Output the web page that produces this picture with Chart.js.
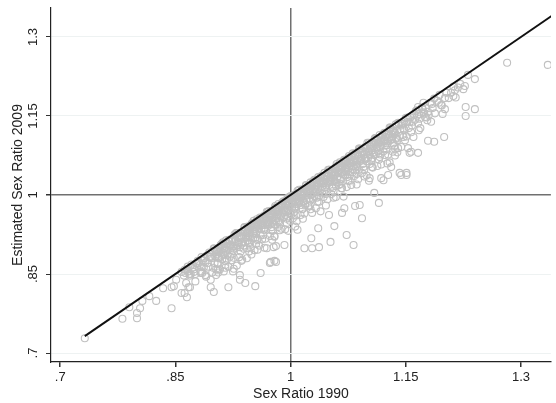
<!DOCTYPE html>
<html>
<head>
<meta charset="utf-8">
<script src="https://cdn.jsdelivr.net/npm/chart.js@4.4.1/dist/chart.umd.min.js"></script>
<style>
  body { margin: 0; background: #fff; }
</style>
</head>
<body>
<canvas id="myChart" width="556" height="403"></canvas>
<script>
var tickValues = [0.7, 0.85, 1, 1.15, 1.3];
var tickLabels = [".7", ".85", "1", "1.15", "1.3"];

// 45 degree line
var lineX = [0.732, 1.345];
var lineY = [0.732, 1.345];

// sex ratio 1990 (x) vs estimated sex ratio 2009 (y)
var sr1990 = [
  // low tail
  0.732,0.781,0.800,0.800,0.804,0.790,0.807,0.825,0.816,0.845,0.834,0.845,0.851,0.858,0.865,0.863,0.869,0.862,0.848,0.858,0.870,0.867,
  // below the band
  0.896,0.896,0.900,0.919,0.934,0.941,0.954,0.961,0.973,0.979,0.934,0.903,0.883,0.884,0.978,0.981,0.992,0.957,0.943,0.979,0.974,0.981,0.890,0.905,0.915,0.925,0.930,
  1.018,1.028,1.037,1.052,1.082,1.073,1.057,1.093,1.027,1.036,1.050,1.067,1.084,1.090,1.115,1.109,1.121,1.142,1.151,1.131,1.102,1.157,1.144,1.127,1.118,1.103,1.070,
  // upper tail
  1.282,1.335,1.240,1.231,1.227,1.214,1.212,1.201,1.201,1.196,1.240,1.228,1.228,1.200,1.187,1.179,1.183,1.198,1.180,1.173,1.166,1.153,1.155,1.166,1.144,1.151,1.167,1.160,1.147,1.140,
  // main band
  0.862,0.867,0.869,0.864,
  0.871,0.874,0.878,0.876,
  0.881,0.884,0.887,0.889,
  0.891,0.893,0.896,0.898,
  0.901,0.902,0.904,0.905,0.906,0.907,0.908,0.909,
  0.911,0.912,0.913,0.914,0.915,0.916,0.918,0.919,
  0.920,0.921,0.923,0.924,0.925,0.926,0.927,0.929,
  0.930,0.931,0.932,0.934,0.935,0.936,0.937,0.939,
  0.940,0.941,0.941,0.942,0.943,0.944,0.944,0.945,0.946,0.947,0.947,0.948,0.949,0.949,
  0.950,0.951,0.951,0.952,0.953,0.954,0.954,0.955,0.956,0.957,0.957,0.958,0.959,0.959,
  0.960,0.961,0.961,0.962,0.963,0.964,0.964,0.965,0.966,0.967,0.967,0.968,0.969,0.969,
  0.970,0.971,0.971,0.972,0.973,0.974,0.974,0.975,0.976,0.977,0.977,0.978,0.979,0.979,
  0.980,0.981,0.981,0.982,0.983,0.984,0.984,0.985,0.986,0.987,0.987,0.988,0.989,0.989,
  0.990,0.991,0.991,0.992,0.993,0.994,0.994,0.995,0.996,0.997,0.997,0.998,0.999,0.999,
  1.000,1.001,1.001,1.002,1.003,1.004,1.004,1.005,1.006,1.007,1.007,1.008,1.009,1.009,
  1.010,1.011,1.011,1.012,1.013,1.014,1.014,1.015,1.016,1.017,1.017,1.018,1.019,1.019,
  1.020,1.021,1.021,1.022,1.023,1.024,1.024,1.025,1.026,1.027,1.027,1.028,1.029,1.029,
  1.030,1.031,1.031,1.032,1.033,1.034,1.034,1.035,1.036,1.037,1.037,1.038,1.039,1.039,
  1.040,1.041,1.041,1.042,1.043,1.044,1.044,1.045,1.046,1.047,1.047,1.048,1.049,1.049,
  1.050,1.051,1.051,1.052,1.053,1.054,1.054,1.055,1.056,1.057,1.057,1.058,1.059,1.059,
  1.060,1.061,1.061,1.062,1.063,1.064,1.064,1.065,1.066,1.067,1.067,1.068,1.069,1.069,
  1.070,1.071,1.071,1.072,1.073,1.074,1.074,1.075,1.076,1.077,1.077,1.078,1.079,1.079,
  1.080,1.081,1.081,1.082,1.083,1.084,1.084,1.085,1.086,1.087,1.087,1.088,1.089,1.089,
  1.090,1.091,1.092,1.093,1.094,1.095,1.096,1.097,1.098,1.099,
  1.100,1.101,1.102,1.103,1.104,1.105,1.106,1.107,1.108,1.109,
  1.110,1.111,1.112,1.113,1.114,1.115,1.116,1.117,1.118,1.119,
  1.120,1.121,1.122,1.123,1.124,1.125,1.126,1.127,1.128,1.129,
  1.130,1.131,1.132,1.133,1.134,1.135,1.136,1.137,1.138,1.139,
  1.141,1.143,1.145,1.146,1.148,1.149,
  1.150,1.152,1.154,1.156,1.157,1.159,
  1.161,1.162,1.164,1.166,1.167,1.169,
  1.171,1.173,1.175,1.176,1.178,1.179,
  1.182,1.185,1.188,
  1.191,1.194,1.197,
  1.203,1.206,1.209,
  1.212,1.215,1.218,
  1.221,1.225,
  // second layer of the band
  0.865,0.868,0.872,0.876,0.879,0.882,0.885,0.888,0.892,0.895,
  0.861,0.866,0.874,0.877,0.883,0.886,0.889,0.894,0.897,0.899,
  0.900,0.908,0.903,0.906,0.901,0.909,0.904,0.902,0.907,0.905,0.903,0.906,
  0.910,0.918,0.913,0.916,0.911,0.919,0.914,0.912,0.917,0.915,0.913,0.916,
  0.920,0.928,0.923,0.926,0.921,0.929,0.924,0.922,0.927,0.925,0.923,0.926,
  0.930,0.938,0.933,0.936,0.931,0.939,0.934,0.932,0.937,0.935,0.933,0.936,
  0.940,0.948,0.943,0.946,0.941,0.949,0.944,0.942,0.947,0.945,0.943,0.946,
  0.950,0.958,0.953,0.956,0.951,0.959,0.954,0.952,0.957,0.955,0.953,0.956,
  0.960,0.968,0.963,0.966,0.961,0.969,0.964,0.962,0.967,0.965,0.963,0.966,
  0.970,0.978,0.973,0.976,0.971,0.979,0.974,0.972,0.977,0.975,0.973,0.976,
  0.980,0.988,0.983,0.986,0.981,0.989,0.984,0.982,0.987,0.985,0.983,0.986,
  0.990,0.998,0.993,0.996,0.991,0.999,0.994,0.992,0.997,0.995,0.993,0.996,
  1.000,1.008,1.003,1.006,1.001,1.009,1.004,1.002,1.007,1.005,1.003,1.006,
  1.010,1.018,1.013,1.016,1.011,1.019,1.014,1.012,1.017,1.015,1.013,1.016,
  1.020,1.028,1.023,1.026,1.021,1.029,1.024,1.022,1.027,1.025,1.023,1.026,
  1.030,1.038,1.033,1.036,1.031,1.039,1.034,1.032,1.037,1.035,1.033,1.036,
  1.040,1.048,1.043,1.046,1.041,1.049,1.044,1.042,1.047,1.045,1.043,1.046,
  1.050,1.058,1.053,1.056,1.051,1.059,1.054,1.052,1.057,1.055,1.053,1.056,
  1.060,1.068,1.063,1.066,1.061,1.069,1.064,1.062,1.067,1.065,1.063,1.066,
  1.070,1.078,1.073,1.076,1.071,1.079,1.074,1.072,1.077,1.075,1.073,1.076,
  1.080,1.088,1.083,1.086,1.081,1.089,1.084,1.082,1.087,1.085,1.083,1.086,
  1.090,1.098,1.093,1.096,1.091,1.099,1.094,1.092,1.097,1.095,1.093,1.096,
  1.100,1.108,1.103,1.106,1.101,1.109,1.104,1.102,1.107,1.105,1.103,1.106,
  1.110,1.118,1.113,1.116,1.111,1.119,1.114,1.112,1.117,1.115,1.113,1.116,
  1.120,1.128,1.123,1.126,1.121,1.129,1.124,1.122,1.127,1.125,1.123,1.126,
  1.130,1.138,1.133,1.136,1.131,1.139,1.134,1.132,1.137,1.135,1.133,1.136,
  1.140,1.144,1.147,1.142,1.148,1.152,1.155,1.158,1.151,1.163,1.165,1.168,1.172,1.174,1.177,1.184,1.187,1.193
];
var sr2009 = [
  0.728,0.765,0.766,0.776,0.785,0.787,0.799,0.799,0.808,0.785,0.823,0.825,0.839,0.814,0.806,0.852,0.825,0.814,0.827,0.854,0.850,0.825,
  0.839,0.825,0.816,0.825,0.839,0.833,0.827,0.852,0.871,0.875,0.848,0.848,0.852,0.863,0.901,0.903,0.905,0.896,0.880,0.922,0.873,0.873,0.845,0.858,0.862,0.855,0.866,
  0.899,0.899,0.901,0.911,0.905,0.924,0.941,0.956,0.918,0.937,0.962,0.966,0.979,0.981,0.985,1.004,1.028,1.042,1.042,1.053,1.027,1.082,1.091,1.038,1.032,1.032,0.975,
  1.251,1.247,1.220,1.228,1.207,1.199,1.188,1.184,1.163,1.171,1.163,1.167,1.150,1.110,1.101,1.103,1.139,1.154,1.152,1.175,1.167,1.089,1.080,1.080,1.038,1.038,1.123,1.110,1.110,1.089,
  0.858,0.855,0.847,0.833,
  0.868,0.859,0.870,0.836,
  0.871,0.882,0.863,0.872,
  0.885,0.864,0.883,0.853,
  0.898,0.884,0.894,0.871,0.881,0.900,0.859,0.895,
  0.899,0.910,0.886,0.894,0.875,0.908,0.887,0.864,
  0.915,0.905,0.887,0.913,0.902,0.881,0.925,0.900,
  0.921,0.911,0.928,0.901,0.921,0.910,0.877,0.898,
  0.938,0.931,0.920,0.936,0.928,0.914,0.940,0.919,0.934,0.909,0.929,0.901,0.941,0.887,
  0.945,0.938,0.927,0.951,0.944,0.935,0.919,0.927,0.950,0.942,0.914,0.947,0.904,0.937,
  0.957,0.945,0.953,0.935,0.951,0.924,0.944,0.960,0.934,0.957,0.917,0.951,0.945,0.899,
  0.963,0.969,0.953,0.961,0.944,0.970,0.952,0.939,0.962,0.932,0.968,0.952,0.921,0.963,
  0.976,0.969,0.956,0.974,0.964,0.951,0.983,0.970,0.944,0.981,0.959,0.936,0.978,0.967,
  0.981,0.988,0.971,0.978,0.962,0.988,0.970,0.955,0.985,0.980,0.932,0.996,0.965,0.951,
  0.998,0.988,0.994,0.976,0.985,0.967,1.000,0.995,0.976,0.961,0.992,0.950,0.987,0.934,
  1.004,0.995,1.010,0.988,1.003,0.981,0.995,1.011,0.974,1.004,0.989,0.965,1.011,0.981,
  1.017,1.010,0.999,1.015,1.006,0.993,1.010,0.980,1.024,1.001,1.018,0.966,1.009,0.993,
  1.022,1.029,1.012,1.019,1.005,1.029,0.995,1.019,1.012,0.987,1.026,1.005,0.969,1.033,
  1.036,1.027,1.016,1.033,1.023,1.009,1.042,1.028,1.002,1.036,1.018,0.992,1.042,1.026,
  1.040,1.048,1.033,1.025,1.040,1.048,1.016,1.033,1.008,1.041,1.026,1.049,0.996,1.017,
  1.055,1.046,1.035,1.052,1.043,1.030,1.062,1.021,1.053,1.043,1.013,1.060,1.039,0.997,
  1.067,1.059,1.050,1.065,1.044,1.058,1.034,1.070,1.051,1.027,1.066,1.043,1.060,1.019,
  1.072,1.079,1.063,1.055,1.070,1.047,1.079,1.063,1.040,1.077,1.055,1.030,1.073,1.048,
  1.086,1.077,1.068,1.084,1.059,1.076,1.048,1.091,1.069,1.037,
  1.093,1.084,1.099,1.076,1.092,1.065,1.085,1.052,1.099,1.076,
  1.108,1.099,1.090,1.106,1.083,1.099,1.072,1.091,1.058,1.109,
  1.111,1.102,1.118,1.094,1.110,1.087,1.102,1.077,1.121,1.062,
  1.125,1.116,1.106,1.123,1.098,1.115,1.088,1.134,1.107,1.081,
  1.135,1.125,1.135,1.114,1.124,1.104,
  1.146,1.138,1.127,1.147,1.119,1.139,
  1.153,1.143,1.161,1.136,1.154,1.127,
  1.166,1.157,1.148,1.166,1.142,1.158,
  1.175,1.165,1.155,
  1.179,1.190,1.170,
  1.194,1.184,1.194,
  1.206,1.185,1.204,
  1.211,1.201,
  0.859,0.850,0.862,0.850,0.875,0.867,0.852,0.880,0.871,0.883,
  0.847,0.864,0.854,0.870,0.855,0.876,0.848,0.891,0.880,0.862,
  0.899,0.900,0.888,0.884,0.871,0.905,0.892,0.883,0.880,0.869,0.859,0.853,
  0.907,0.908,0.896,0.891,0.878,0.913,0.900,0.891,0.877,0.867,0.855,0.914,
  0.915,0.916,0.903,0.898,0.883,0.928,0.915,0.906,0.903,0.894,0.876,0.860,
  0.928,0.931,0.920,0.918,0.905,0.904,0.923,0.909,0.908,0.893,0.882,0.875,
  0.939,0.940,0.928,0.924,0.911,0.945,0.932,0.923,0.920,0.909,0.899,0.893,
  0.947,0.948,0.936,0.931,0.918,0.953,0.940,0.931,0.917,0.907,0.895,0.954,
  0.955,0.956,0.943,0.938,0.923,0.968,0.955,0.946,0.943,0.934,0.916,0.900,
  0.968,0.971,0.960,0.958,0.945,0.944,0.963,0.949,0.948,0.933,0.922,0.915,
  0.979,0.980,0.968,0.964,0.951,0.985,0.972,0.963,0.960,0.949,0.939,0.933,
  0.987,0.988,0.976,0.971,0.958,0.993,0.980,0.971,0.957,0.947,0.935,0.994,
  0.995,0.996,0.983,0.978,0.963,1.008,0.995,0.986,0.983,0.974,0.956,0.940,
  1.008,1.011,1.000,0.998,0.985,0.984,1.003,0.989,0.988,0.973,0.962,0.955,
  1.019,1.020,1.008,1.004,0.991,1.025,1.012,1.003,1.000,0.989,0.979,0.973,
  1.027,1.028,1.016,1.011,0.998,1.033,1.020,1.011,0.997,0.987,0.975,1.034,
  1.035,1.036,1.023,1.018,1.003,1.048,1.035,1.026,1.023,1.014,0.996,0.980,
  1.048,1.051,1.040,1.038,1.025,1.024,1.043,1.029,1.028,1.013,1.002,0.995,
  1.059,1.060,1.048,1.044,1.031,1.065,1.052,1.043,1.040,1.029,1.019,1.013,
  1.067,1.068,1.056,1.051,1.038,1.073,1.060,1.051,1.037,1.027,1.015,1.074,
  1.075,1.076,1.063,1.058,1.043,1.088,1.075,1.066,1.063,1.054,1.036,1.020,
  1.088,1.091,1.080,1.078,1.065,1.064,1.083,1.069,1.068,1.053,1.042,1.035,
  1.099,1.100,1.088,1.084,1.071,1.105,1.092,1.083,1.080,1.069,1.059,1.053,
  1.107,1.108,1.096,1.091,1.078,1.113,1.100,1.091,1.077,1.067,1.055,1.114,
  1.115,1.116,1.103,1.098,1.083,1.128,1.115,1.106,1.103,1.094,1.076,1.060,
  1.128,1.131,1.120,1.118,1.105,1.104,1.123,1.109,1.108,1.093,1.082,1.075,
  1.137,1.132,1.126,1.112,1.140,1.147,1.138,1.132,1.111,1.159,1.151,1.145,1.163,1.155,1.147,1.173,1.183,1.175
];

var tickFont = { family: "'Liberation Sans', Arial, sans-serif", size: 13 };
var titleFont = { family: "'Liberation Sans', Arial, sans-serif", size: 14 };

new Chart("myChart", {
  type: "scatter",
  data: {
    datasets: [{
      type: "line",
      data: lineX.map(function (x, i) { return { x: x, y: lineY[i] }; }),
      borderColor: "#111",
      borderWidth: 2,
      pointRadius: 0,
      order: 0
    }, {
      data: sr1990.map(function (x, i) { return { x: x, y: sr2009[i] }; }),
      pointRadius: 3.5,
      pointBorderWidth: 1.1,
      borderColor: "#c0c0c0",
      backgroundColor: "rgba(255,255,255,0)",
      order: 1
    }]
  },
  options: {
    responsive: false,
    animation: false,
    layout: { padding: { top: 8, right: 0, left: 0, bottom: 0 } },
    plugins: {
      legend: { display: false },
      tooltip: { enabled: false }
    },
    scales: {
      x: {
        type: "linear",
        min: 0.688,
        max: 1.339,
        afterBuildTicks: function (s) { s.ticks = tickValues.map(function (v) { return { value: v }; }); },
        afterFit: function (s) { s.height = 41; },
        ticks: {
          callback: function (v) { return tickLabels[tickValues.indexOf(v)]; },
          font: tickFont, color: "#222", padding: 3, maxRotation: 0, autoSkip: false
        },
        grid: {
          color: function (c) { return c.tick && c.tick.value === 1 ? "#707070" : "rgba(0,0,0,0)"; },
          lineWidth: 1.5,
          tickColor: "#333",
          tickLength: 5
        },
        border: { color: "#222", width: 1.2 },
        title: { display: true, text: "Sex Ratio 1990", font: titleFont, color: "#222", padding: 0 }
      },
      y: {
        type: "linear",
        min: 0.683,
        max: 1.355,
        afterBuildTicks: function (s) { s.ticks = tickValues.map(function (v) { return { value: v }; }); },
        afterFit: function (s) { s.width = 51; },
        ticks: {
          callback: function (v) { return tickLabels[tickValues.indexOf(v)]; },
          font: tickFont, color: "#222", padding: 0, minRotation: 90, maxRotation: 90,
          crossAlign: "center", autoSkip: false
        },
        grid: {
          color: function (c) { return c.tick && c.tick.value === 1 ? "#707070" : "#eef2f2"; },
          lineWidth: function (c) { return c.tick && c.tick.value === 1 ? 1.5 : 1; },
          tickColor: "#333",
          tickLength: 5
        },
        border: { color: "#222", width: 1.2 },
        title: { display: true, text: "Estimated Sex Ratio 2009", font: titleFont, color: "#222", padding: { top: 10, bottom: 0 } }
      }
    }
  }
});
</script>
</body>
</html>
